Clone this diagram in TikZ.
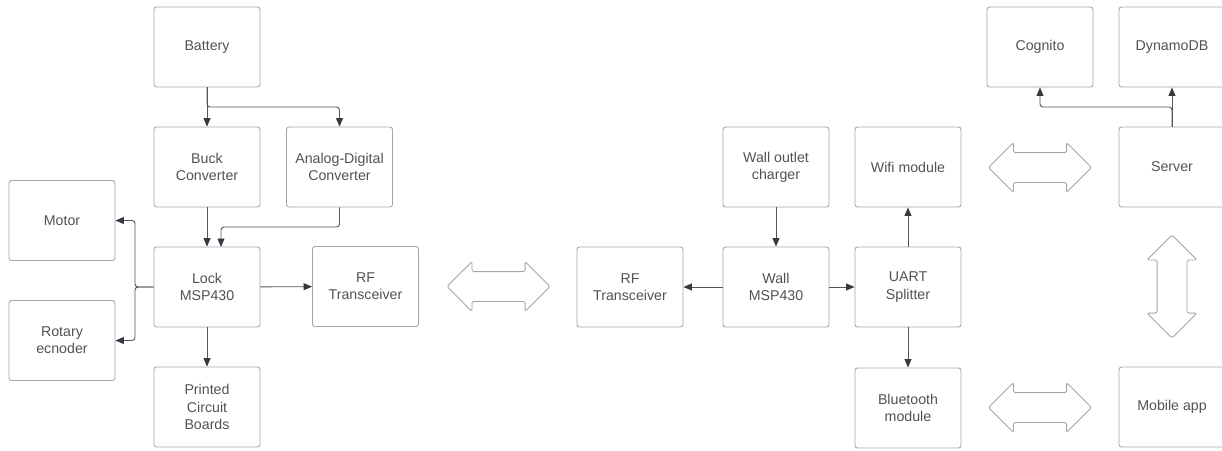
\documentclass[tikz,border=0pt]{standalone}
\usepackage{fontspec}
\setmainfont{Liberation Sans}
\usetikzlibrary{arrows.meta,shapes.arrows}
\definecolor{boxline}{HTML}{A2A5A9}
\definecolor{boxtext}{HTML}{4E5257}
\definecolor{wire}{HTML}{50575F}
\definecolor{tipcol}{HTML}{333A42}
\tikzset{
  block/.style={draw=boxline,line width=0.9pt,rounded corners=2.5pt,
    minimum width=106pt,minimum height=80pt,align=center,text=boxtext,
    font=\fontsize{14.2}{17.3}\selectfont},
  link/.style={draw=wire,line width=0.9pt,rounded corners=3pt,
    -{Triangle[length=8.5pt,width=7pt,color=tipcol]}},
  radio/.style={double arrow,draw=boxline,line width=0.9pt,
    inner xsep=0pt,inner ysep=14.5pt,rounded corners=1.5pt,
    minimum height=103pt,double arrow head extend=10pt}
}
\begin{document}
\begin{tikzpicture}[x=1pt,y=-1pt]
  \useasboundingbox (0,0) rectangle (1222,450);
  % lock side
  \node[block] (battery) at (207,47) {Battery};
  \node[block] (buck) at (207,167) {Buck\\Converter};
  \node[block] (adc) at (339.5,167) {Analog-Digital\\Converter};
  \node[block] (motor) at (62,220.5) {Motor};
  \node[block] (lock) at (207,287) {Lock\\MSP430};
  \node[block] (rflock) at (365.5,286.5) {RF\\Transceiver};
  \node[block] (rotary) at (62,340.5) {Rotary\\ecnoder};
  \node[block] (pcb) at (207,407) {Printed\\Circuit\\Boards};
  % wall side
  \node[block] (rfwall) at (630,287) {RF\\Transceiver};
  \node[block] (outlet) at (776,167) {Wall outlet\\charger};
  \node[block] (wall) at (776,287) {Wall\\MSP430};
  \node[block] (wifi) at (908,167) {Wifi module};
  \node[block] (uart) at (908,287) {UART\\Splitter};
  \node[block] (bt) at (908,408) {Bluetooth\\module};
  % cloud
  \node[block] (cognito) at (1040,47) {Cognito};
  \node[block] (dynamo) at (1172,47) {DynamoDB};
  \node[block] (server) at (1172,167) {Server};
  \node[block] (mobile) at (1172,407) {Mobile app};
  % wireless links
  \node[radio] (rflink) at (498.5,286.5) {};
  \node[radio] (wifilink) at (1040,167.5) {};
  \node[radio] (btlink) at (1040,407.5) {};
  \node[radio,rotate=90] (applink) at (1172,286.5) {};
  % connectors
  \draw[link] (battery) -- (buck);
  \draw[link] (battery.south) |- (270,107) -| (adc.north);
  \draw[link] (buck) -- (lock);
  \draw[link] (adc.south) |- (221,227) -- (221,247);
  \draw[link] (lock.west) -- (135,287) |- (motor.east);
  \draw[link] (lock.west) -- (135,287) |- (rotary.east);
  \draw[link] (lock) -- (rflock);
  \draw[link] (lock) -- (pcb);
  \draw[link] (outlet) -- (wall);
  \draw[link] (wall) -- (rfwall);
  \draw[link] (wall) -- (uart);
  \draw[link] (uart) -- (wifi);
  \draw[link] (uart) -- (bt);
  \draw[link] (server) -- (dynamo);
  \draw[link] (server.north) |- (1100,107) -| (cognito.south);
\end{tikzpicture}
\end{document}
